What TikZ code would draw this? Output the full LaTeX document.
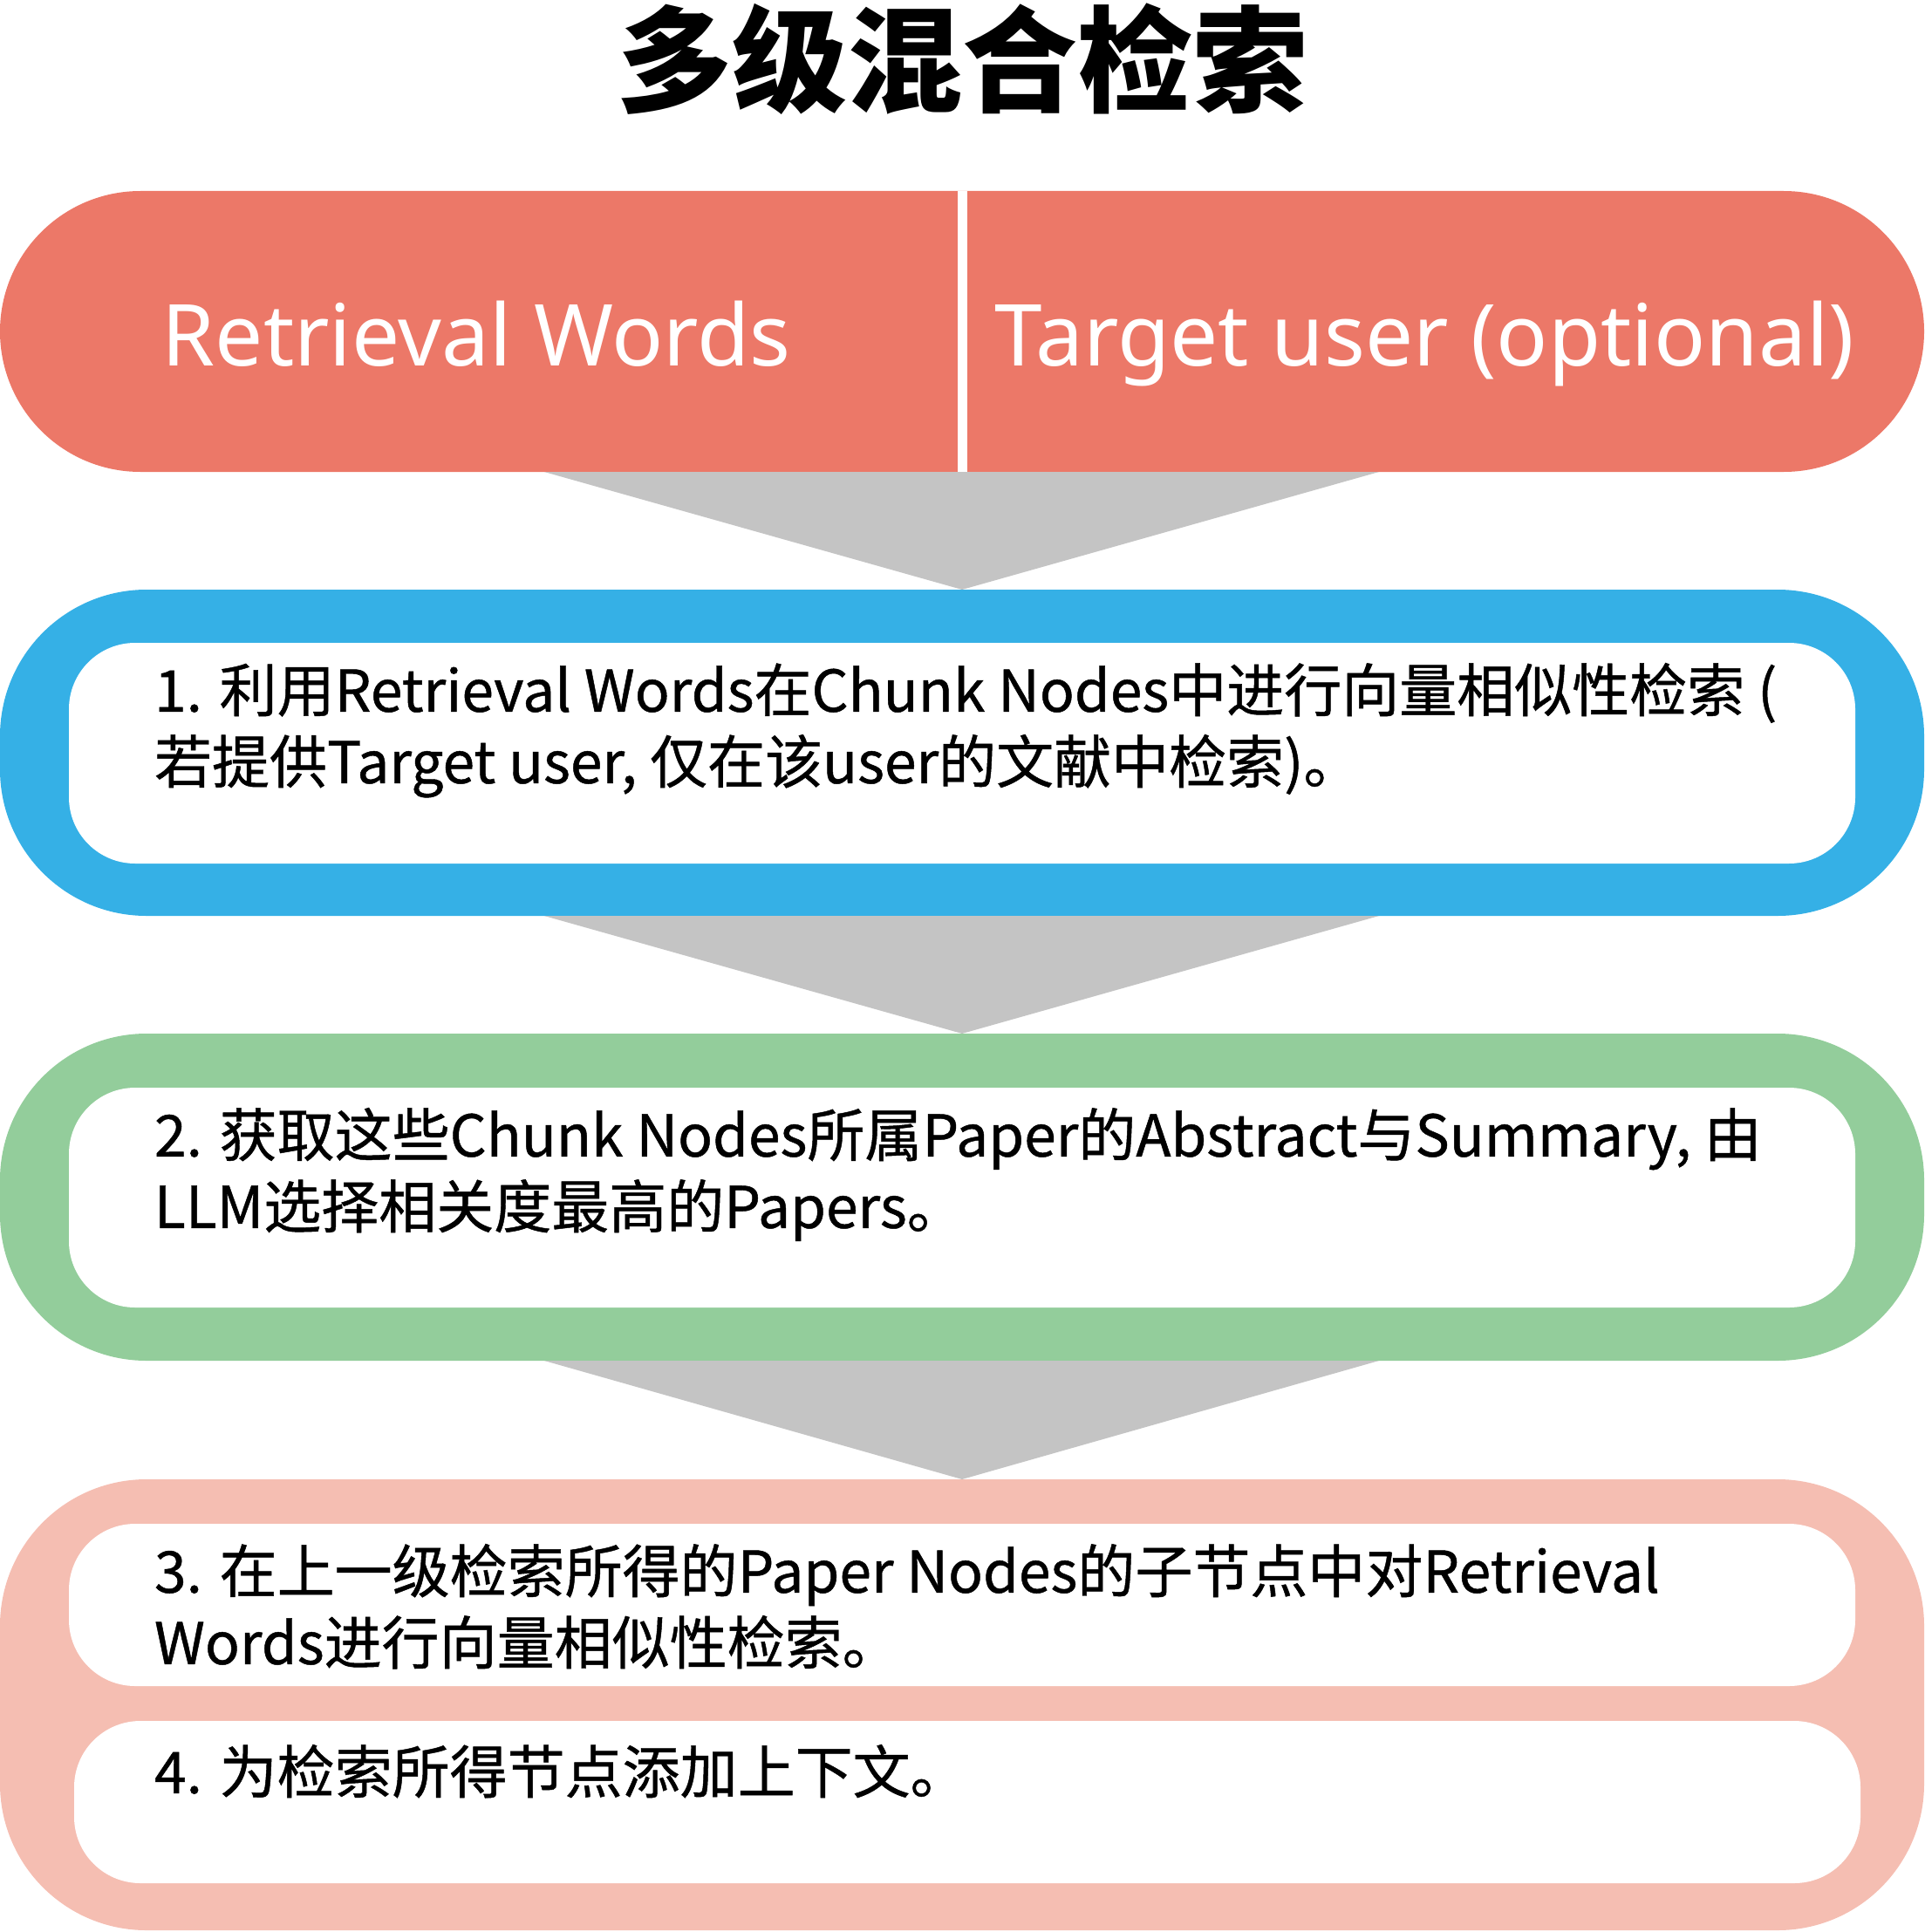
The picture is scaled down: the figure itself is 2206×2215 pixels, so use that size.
\documentclass[tikz,border=0pt]{standalone}
\usepackage{fontspec}
\usetikzlibrary{calc}
\newfontfamily\cjkbody{Noto Sans CJK SC}[FakeBold=0.7]
\newfontfamily\cjkplain{Noto Sans CJK SC}
\newfontfamily\pillfont{Noto Sans}
\definecolor{pillred}{HTML}{EC7868}
\definecolor{stepblue}{HTML}{35B0E6}
\definecolor{stepgreen}{HTML}{93CD9B}
\definecolor{steppink}{HTML}{F5BEB2}
\definecolor{arrowgray}{HTML}{C4C4C4}
\tikzset{
  slab/.style={rectangle, inner sep=0pt, outer sep=0pt, draw=none},
  outerbox/.style={slab, minimum width=1103pt, rounded corners=84pt},
  innerbox/.style={slab, fill=white, minimum width=1024pt, rounded corners=38pt},
  bodytext/.style={inner sep=0pt, outer sep=0pt, anchor=north west, align=left,
    font=\cjkbody\fontsize{33pt}{41pt}\selectfont},
  pilltext/.style={inner sep=0pt, outer sep=0pt, anchor=base, text=white,
    font=\pillfont\fontsize{49pt}{58pt}\selectfont},
  funnel/.style={fill=arrowgray, draw=none}
}
\begin{document}
\begin{tikzpicture}[x=0.5pt, y=-0.5pt]
\useasboundingbox (0,0) rectangle (2206,2215);
% title
\node[inner sep=0pt, font=\cjkplain\bfseries\fontsize{66pt}{70pt}\selectfont] (title) at (1103,68) {多级混合检索};
% top pill
\node[slab, fill=pillred, minimum width=1103pt, minimum height=161pt, rounded corners=80.5pt] (pill) at (1103,380) {};
\coordinate (divtop) at (pill.north);
\coordinate (divbot) at (pill.south);
\draw[white, line width=5.5pt] (divtop) -- (divbot);
\node[pilltext] (rw) at (546,419) {Retrieval Words};
\node[pilltext] (tu) at (1633,419) {Target user (optional)};
% step 1
\node[outerbox, fill=stepblue, minimum height=187pt] (s1) at (1103,863) {};
\node[innerbox, minimum height=126.5pt] (s1in) at (1103,863.5) {};
\node[bodytext] (t1) at (177,760) {1. 利用Retrieval Words在Chunk Nodes中进行向量相似性检索 (\\若提供Target user, 仅在该user的文献中检索)。};
% step 2
\node[outerbox, fill=stepgreen, minimum height=187.5pt] (s2) at (1103,1372.5) {};
\node[innerbox, minimum height=126pt] (s2in) at (1103,1373) {};
\node[bodytext] (t2) at (177,1270) {2. 获取这些Chunk Nodes所属Paper的Abstract与Summary, 由\\LLM选择相关度最高的Papers。};
% step 3 and 4
\node[outerbox, fill=steppink, minimum height=258.5pt] (s3) at (1103,1954.5) {};
\node[innerbox, minimum height=93pt] (s3in) at (1103,1840) {};
\node[innerbox, minimum height=93pt] (s4in) at (1109,2066) {};
\node[bodytext] (t3) at (177,1770) {3. 在上一级检索所得的Paper Nodes的子节点中对Retrieval\\Words进行向量相似性检索。};
\node[bodytext] (t4) at (177,2000) {4. 为检索所得节点添加上下文。};
% funnels
\fill[funnel] ($(pill.south)+(-479,0)$) -- ($(pill.south)+(478,0)$) -- (s1.north) -- cycle;
\fill[funnel] ($(s1.south)+(-479,0)$) -- ($(s1.south)+(478,0)$) -- (s2.north) -- cycle;
\fill[funnel] ($(s2.south)+(-479,0)$) -- ($(s2.south)+(478,0)$) -- (s3.north) -- cycle;
\end{tikzpicture}
\end{document}
